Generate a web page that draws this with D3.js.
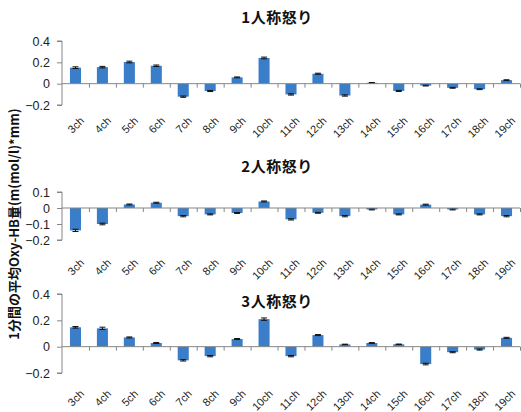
<!DOCTYPE html>
<html><head><meta charset="utf-8">
<script src="https://cdn.jsdelivr.net/npm/d3@7"></script>
<style>
html,body{margin:0;padding:0;background:#fff;}
svg{display:block;}
</style>
</head><body>
<svg id="chart" width="521" height="412"></svg>
<script>
const categories = ["3ch","4ch","5ch","6ch","7ch","8ch","9ch","10ch","11ch","12ch","13ch","14ch","15ch","16ch","17ch","18ch","19ch"];

const titles = ["1人称怒り","2人称怒り","3人称怒り"];

const values1 = [0.15,0.155,0.203,0.168,-0.122,-0.069,0.059,0.241,-0.101,0.093,-0.111,0.008,-0.068,-0.018,-0.039,-0.052,0.033];
const errors1 = [0.008,0.007,0.008,0.007,0.006,0.005,0.004,0.008,0.006,0.005,0.006,0.003,0.005,0.004,0.004,0.004,0.004];

const values2 = [-0.14,-0.1,0.022,0.033,-0.051,-0.04,-0.031,0.041,-0.071,-0.03,-0.051,-0.009,-0.04,0.021,-0.009,-0.04,-0.051];
const errors2 = [0.007,0.005,0.003,0.003,0.004,0.003,0.003,0.003,0.004,0.003,0.004,0.003,0.003,0.003,0.003,0.003,0.004];

const values3 = [0.147,0.139,0.07,0.028,-0.104,-0.072,0.058,0.209,-0.072,0.088,0.017,0.028,0.018,-0.132,-0.042,-0.022,0.067];
const errors3 = [0.006,0.009,0.004,0.004,0.005,0.005,0.004,0.009,0.005,0.004,0.002,0.003,0.002,0.006,0.004,0.004,0.004];

const ticks1 = [-0.2,0,0.2,0.4];
const ticks2 = [-0.2,-0.1,0,0.1];
const ticks3 = [-0.2,0,0.2,0.4];

const yLabel = "1分間の平均Oxy-HB量(m(mol/l)*mm)";

// layout
const panels = [
  {values: values1, errors: errors1, ticks: ticks1, domain: [-0.2,0.4], top: 41, bottom: 105, titleY: 23, labelY: 116},
  {values: values2, errors: errors2, ticks: ticks2, domain: [-0.2,0.1], top: 192, bottom: 240, titleY: 172, labelY: 258},
  {values: values3, errors: errors3, ticks: ticks3, domain: [-0.2,0.4], top: 294, bottom: 373, titleY: 307, labelY: 389}
];

const svg = d3.select("#chart");
const x0 = 62, x1 = 520;
const barColor = "#3a7dc8";
const axisColor = "#868686";
const tickFont = "'Liberation Sans', Arial, sans-serif";
const cjkFont = "'Noto Sans CJK JP', 'Noto Sans', sans-serif";

const x = d3.scaleBand().domain(categories).range([x0, x1]).paddingInner(0.59).paddingOuter(0.295);
const idx = d3.scaleLinear().domain([0, categories.length]).range([x0, x1]);

panels.forEach((p, pi) => {
  const y = d3.scaleLinear().domain(p.domain).range([p.bottom, p.top]);
  const g = svg.append("g");

  // y axis
  const yAxis = d3.axisLeft(y).tickValues(p.ticks).tickSize(5).tickPadding(7)
    .tickFormat(d => d === 0 ? "0" : d3.format("")(+d.toFixed(1)));
  const ya = g.append("g").attr("transform", `translate(${x0},0)`).call(yAxis);
  ya.select(".domain").attr("stroke", axisColor).attr("d", `M-5,${p.top}H0V${p.bottom}H-5`);
  ya.selectAll(".tick line").attr("stroke", axisColor);
  ya.selectAll(".tick text").attr("font-family", tickFont).attr("font-size", 12.5).attr("fill", "#222");

  // bars
  g.selectAll("rect.bar").data(p.values).join("rect")
    .attr("class", "bar")
    .attr("x", (d, i) => x(categories[i]))
    .attr("width", x.bandwidth())
    .attr("y", d => y(Math.max(0, d)))
    .attr("height", d => Math.abs(y(d) - y(0)))
    .attr("fill", barColor);

  // error bars
  const eg = g.append("g").attr("stroke", "#111").attr("stroke-width", 1);
  p.values.forEach((v, i) => {
    const cx = x(categories[i]) + x.bandwidth() / 2;
    const e = p.errors[i];
    const ya1 = y(v + e), ya2 = y(v - e);
    eg.append("line").attr("x1", cx).attr("x2", cx).attr("y1", ya1).attr("y2", ya2);
    eg.append("line").attr("x1", cx - 3).attr("x2", cx + 3).attr("y1", ya1).attr("y2", ya1);
    eg.append("line").attr("x1", cx - 3).attr("x2", cx + 3).attr("y1", ya2).attr("y2", ya2);
  });

  // x axis at zero
  const xAxis = d3.axisBottom(idx).tickValues(d3.range(1, categories.length + 1)).tickSize(4).tickFormat("");
  const xa = g.append("g").attr("transform", `translate(0,${y(0)})`).call(xAxis);
  xa.select(".domain").attr("stroke", axisColor).attr("d", `M${x0},0H${x1}`);
  xa.selectAll(".tick line").attr("stroke", axisColor);

  // category labels
  g.selectAll("text.cat").data(categories).join("text")
    .attr("class", "cat")
    .attr("transform", d => `translate(${x(d) + x.bandwidth() / 2 + 4},${p.labelY}) rotate(-45)`)
    .attr("text-anchor", "end")
    .attr("dy", "0.7em")
    .attr("font-family", tickFont)
    .attr("font-size", 11)
    .attr("fill", "#222")
    .text(d => d);

  // title
  g.append("text")
    .attr("x", 277).attr("y", p.titleY)
    .attr("text-anchor", "middle")
    .attr("font-family", cjkFont)
    .attr("font-weight", "bold")
    .attr("font-size", 15)
    .attr("letter-spacing", "0.5px")
    .attr("fill", "#111")
    .text(titles[pi]);
});

// y axis label
svg.append("text")
  .attr("transform", "translate(13,224) rotate(-90)")
  .attr("text-anchor", "middle")
  .attr("dominant-baseline", "central")
  .attr("font-family", cjkFont)
  .attr("font-weight", "bold")
  .attr("font-size", 13)
  .attr("fill", "#111")
  .text(yLabel);
</script>
</body></html>
